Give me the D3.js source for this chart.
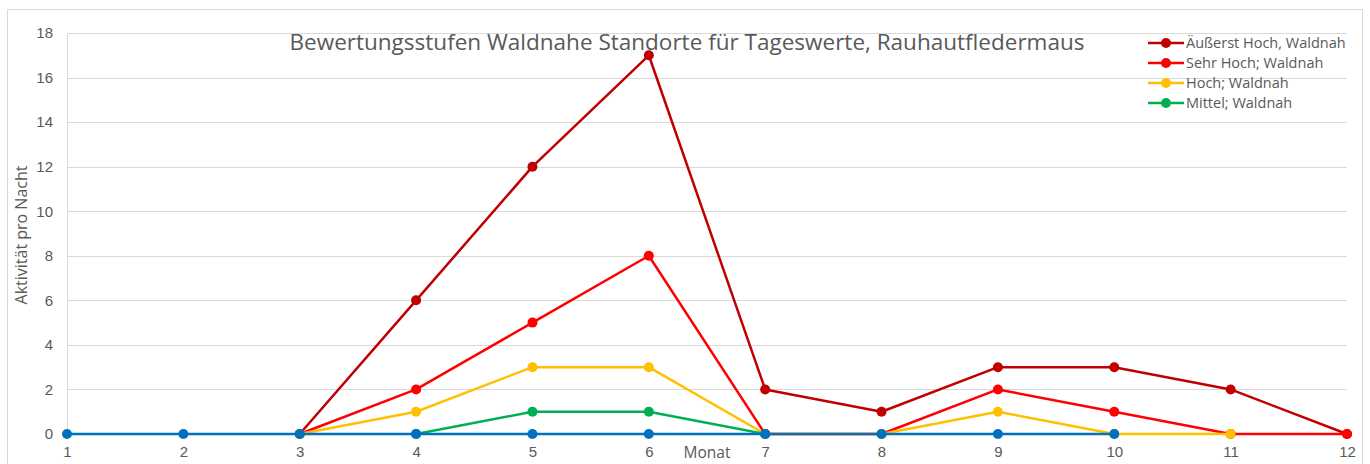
<!DOCTYPE html>
<html lang="de">
<head>
  <meta charset="UTF-8">
  <title>Bewertungsstufen Waldnahe Standorte</title>
  <script src="https://d3js.org/d3.v7.min.js"></script>
  <style>
    body {margin: 0; padding: 0; background: #fff; font-family: "Open Sans", sans-serif;}
    svg {display: block;}
    .tick text {fill: #595959; font-size: 15px;}
  </style>
</head>
<body>
  <div id="chart"></div>
  <script>
    const months = [1, 2, 3, 4, 5, 6, 7, 8, 9, 10, 11, 12];
    const yTicks = [0, 2, 4, 6, 8, 10, 12, 14, 16, 18];

    const aeusserstHoch = [null, null, 0, 6, 12, 17, 2, 1, 3, 3, 2, 0];
    const sehrHoch      = [null, null, 0, 2, 5, 8, 0, 0, 2, 1, 0, 0];
    const hoch          = [null, null, 0, 1, 3, 3, 0, 0, 1, 0, 0, null];
    const mittel        = [null, null, null, 0, 1, 1, 0, null, null, null, null, null];
    const gering        = [0, 0, 0, 0, 0, 0, 0, 0, 0, 0, null, null];

    const seriesNames  = ["Äußerst Hoch, Waldnah", "Sehr Hoch; Waldnah", "Hoch; Waldnah", "Mittel; Waldnah", ""];
    const seriesColors = ["#C00000", "#FF0000", "#FFC000", "#00B050", "#0070C0"];
    const seriesValues = [aeusserstHoch, sehrHoch, hoch, mittel, gering];

    const W = 1370, H = 464;
    const plot = {left: 67, right: 1347, top: 33, bottom: 434};

    const svg = d3.select("#chart").append("svg")
      .attr("width", W).attr("height", H);

    // outer chart frame
    svg.append("rect")
      .attr("x", 7.5).attr("y", 9.5)
      .attr("width", 1355).attr("height", 470)
      .attr("fill", "none").attr("stroke", "#d9d9d9");

    const x = d3.scaleLinear().domain([1, 12]).range([plot.left, plot.right]);
    const y = d3.scaleLinear().domain([0, 18]).range([plot.bottom, plot.top]);

    // gridlines
    svg.append("g")
      .selectAll("line").data(yTicks).join("line")
        .attr("x1", plot.left).attr("x2", plot.right)
        .attr("y1", d => Math.round(y(d)) + 0.5).attr("y2", d => Math.round(y(d)) + 0.5)
        .attr("stroke", "#d9d9d9").attr("stroke-width", 1);

    // left axis line
    svg.append("line")
      .attr("x1", plot.left + 0.5).attr("x2", plot.left + 0.5)
      .attr("y1", plot.top).attr("y2", plot.bottom)
      .attr("stroke", "#d9d9d9");

    const yAxis = svg.append("g")
      .attr("transform", `translate(${plot.left},0)`)
      .call(d3.axisLeft(y).tickValues(yTicks).tickSize(0).tickPadding(14));
    yAxis.select(".domain").remove();

    const xAxis = svg.append("g")
      .attr("transform", `translate(0,${plot.bottom})`)
      .call(d3.axisBottom(x).tickValues(months).tickFormat(d3.format("d")).tickSize(0).tickPadding(12));
    xAxis.select(".domain").remove();

    // series
    const line = d3.line()
      .defined(d => d.v !== null)
      .x(d => x(d.m)).y(d => y(d.v));

    seriesValues.forEach((vals, i) => {
      const pts = months.map((m, j) => ({m: m, v: vals[j]}));
      const g = svg.append("g");
      g.append("path")
        .datum(pts)
        .attr("d", line)
        .attr("fill", "none")
        .attr("stroke", seriesColors[i])
        .attr("stroke-width", 2.5)
        .attr("stroke-linejoin", "round");
      g.selectAll("circle").data(pts.filter(d => d.v !== null)).join("circle")
        .attr("cx", d => x(d.m)).attr("cy", d => y(d.v))
        .attr("r", 5)
        .attr("fill", seriesColors[i]);
    });

    // title
    svg.append("text")
      .attr("x", 687).attr("y", 50)
      .attr("text-anchor", "middle")
      .attr("fill", "#595959")
      .attr("textLength", 795)
      .attr("lengthAdjust", "spacingAndGlyphs")
      .style("font-size", "21px")
      .text("Bewertungsstufen Waldnahe Standorte für Tageswerte, Rauhautfledermaus");

    // axis titles
    svg.append("text")
      .attr("transform", "translate(27,235) rotate(-90)")
      .attr("text-anchor", "middle")
      .attr("fill", "#595959")
      .style("font-size", "16px")
      .text("Aktivität pro Nacht");

    svg.append("text")
      .attr("x", 707).attr("y", 458)
      .attr("text-anchor", "middle")
      .attr("fill", "#595959")
      .style("font-size", "15.5px")
      .text("Monat");

    // legend
    const legend = svg.append("g").attr("transform", "translate(1148,43)");
    seriesNames.slice(0, 4).forEach((name, i) => {
      const row = legend.append("g").attr("transform", `translate(0,${i * 20})`);
      row.append("line")
        .attr("x1", 0).attr("x2", 36).attr("y1", 0).attr("y2", 0)
        .attr("stroke", seriesColors[i]).attr("stroke-width", 2.5);
      row.append("circle").attr("cx", 18).attr("cy", 0).attr("r", 5).attr("fill", seriesColors[i]);
      row.append("text")
        .attr("x", 38).attr("y", 5)
        .attr("fill", "#595959")
        .style("font-size", "14.5px")
        .text(name);
    });
  </script>
</body>
</html>
